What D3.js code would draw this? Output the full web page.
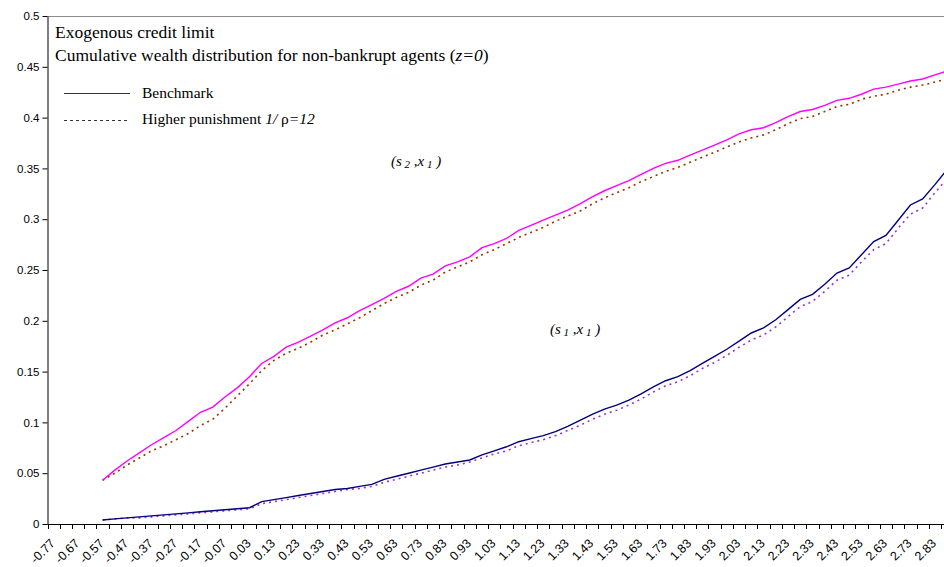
<!DOCTYPE html>
<html><head><meta charset="utf-8">
<script src="https://cdn.jsdelivr.net/npm/d3@7"></script>
<style>
html,body{margin:0;padding:0;background:#fff;}
svg{display:block;overflow:hidden;}
</style></head>
<body>
<svg id="chart" width="944" height="567"></svg>
<script>
const categories = ["-0.77","-0.72","-0.67","-0.62","-0.57","-0.52","-0.47","-0.42","-0.37","-0.32",
"-0.27","-0.22","-0.17","-0.12","-0.07","-0.02","0.03","0.08","0.13","0.18",
"0.23","0.28","0.33","0.38","0.43","0.48","0.53","0.58","0.63","0.68",
"0.73","0.78","0.83","0.88","0.93","0.98","1.03","1.08","1.13","1.18",
"1.23","1.28","1.33","1.38","1.43","1.48","1.53","1.58","1.63","1.68",
"1.73","1.78","1.83","1.88","1.93","1.98","2.03","2.08","2.13","2.18",
"2.23","2.28","2.33","2.38","2.43","2.48","2.53","2.58","2.63","2.68",
"2.73","2.78","2.83","2.88"];

// s2 benchmark (magenta, solid)
const s2Benchmark = [null,null,null,null,
0.043,0.053,0.062,0.070,0.078,0.085,0.092,0.101,0.110,0.115,
0.125,0.134,0.145,0.158,0.165,0.174,0.179,0.185,0.191,0.198,
0.203,0.210,0.216,0.222,0.229,0.234,0.242,0.246,0.254,0.258,
0.263,0.272,0.276,0.281,0.289,0.294,0.299,0.304,0.309,0.315,
0.322,0.328,0.333,0.338,0.344,0.350,0.355,0.358,0.363,0.368,
0.373,0.378,0.384,0.388,0.390,0.395,0.401,0.406,0.408,0.412,
0.417,0.419,0.423,0.428,0.430,0.433,0.436,0.438,0.442,0.446];

// s2 higher punishment (brown, dotted)
const s2Punish = [null,null,null,null,
0.043,0.050,0.058,0.065,0.072,0.077,0.083,0.089,0.097,0.103,
0.114,0.126,0.138,0.151,0.161,0.168,0.173,0.179,0.186,0.191,
0.197,0.203,0.210,0.217,0.223,0.228,0.235,0.240,0.248,0.253,
0.258,0.265,0.270,0.276,0.282,0.287,0.292,0.298,0.303,0.308,
0.315,0.321,0.326,0.331,0.337,0.342,0.347,0.351,0.356,0.361,
0.366,0.371,0.376,0.380,0.383,0.388,0.394,0.399,0.401,0.406,
0.411,0.413,0.418,0.421,0.423,0.427,0.430,0.432,0.435,0.438];

// s1 benchmark (navy, solid)
const s1Benchmark = [null,null,null,null,
0.004,0.005,0.006,0.007,0.008,0.009,0.010,0.011,0.012,0.013,
0.014,0.015,0.016,0.022,0.024,0.026,0.028,0.030,0.032,0.034,
0.035,0.037,0.039,0.044,0.047,0.050,0.053,0.056,0.059,0.061,
0.063,0.068,0.072,0.076,0.081,0.084,0.087,0.091,0.096,0.102,
0.108,0.113,0.117,0.122,0.128,0.135,0.141,0.145,0.151,0.158,
0.165,0.172,0.180,0.188,0.193,0.201,0.211,0.221,0.226,0.236,
0.247,0.252,0.265,0.278,0.284,0.299,0.314,0.320,0.334,0.349];

// s1 higher punishment (purple, dotted)
const s1Punish = [null,null,null,null,
0.004,0.005,0.006,0.006,0.007,0.008,0.009,0.010,0.011,0.012,
0.013,0.014,0.015,0.020,0.022,0.024,0.026,0.028,0.030,0.032,
0.034,0.035,0.037,0.041,0.044,0.047,0.050,0.053,0.056,0.058,
0.061,0.065,0.069,0.072,0.077,0.080,0.083,0.087,0.092,0.097,
0.103,0.108,0.112,0.117,0.123,0.130,0.136,0.140,0.146,0.153,
0.159,0.166,0.174,0.181,0.186,0.194,0.204,0.214,0.219,0.229,
0.240,0.245,0.258,0.270,0.276,0.291,0.305,0.311,0.326,0.340];

const yTickValues = [0,0.05,0.1,0.15,0.2,0.25,0.3,0.35,0.4,0.45,0.5];
const yTickLabels = ["0","0.05","0.1","0.15","0.2","0.25","0.3","0.35","0.4","0.45","0.5"];

(function(){
const svg = d3.select("#chart");
const pLeft = 47.5, pTop = 16, pBottom = 524, step = 12.24;
const x = d3.scaleBand().domain(categories).range([pLeft, pLeft + categories.length*step]).padding(0);
const y = d3.scaleLinear().domain([0,0.5]).range([pBottom, pTop]);

// top border of plot area
svg.append("line").attr("x1",pLeft).attr("x2",944).attr("y1",pTop+0.5).attr("y2",pTop+0.5)
  .attr("stroke","#8c8c8c").attr("stroke-width",1);

// Y axis
const yAxis = d3.axisLeft(y).tickValues(yTickValues)
  .tickFormat((d,i)=>yTickLabels[i]).tickSize(5).tickSizeOuter(0);
const gy = svg.append("g").attr("transform",`translate(${pLeft},0)`).call(yAxis);
gy.select(".domain").attr("stroke","#000");
gy.selectAll(".tick line").attr("stroke","#000");
gy.selectAll("text").attr("font-family","'Liberation Sans',Arial,sans-serif").attr("font-size",11.5).attr("fill","#000").attr("x",-8);

// X axis: line + ticks at category boundaries
const gx = svg.append("g");
gx.append("line").attr("x1",pLeft).attr("x2",944).attr("y1",pBottom+0.5).attr("y2",pBottom+0.5).attr("stroke","#000");
const boundaries = categories.map(c => x(c)).concat([x(categories[categories.length-1]) + x.bandwidth()]);
gx.selectAll("line.tk").data(boundaries).enter().append("line").attr("class","tk")
  .attr("x1",d=>Math.round(d)+0.5).attr("x2",d=>Math.round(d)+0.5)
  .attr("y1",pBottom).attr("y2",pBottom+5).attr("stroke","#000");
const shownLabels = categories.filter((c,i)=>i%2===0);
gx.selectAll("text.xl").data(shownLabels).enter().append("text").attr("class","xl")
  .attr("transform",d=>`translate(${x(d)+x.bandwidth()/2-1},${pBottom+17}) rotate(-45)`)
  .attr("text-anchor","end").attr("dy","0.35em")
  .attr("font-family","'Liberation Sans',Arial,sans-serif").attr("font-size",12.5).attr("fill","#000")
  .text(d=>d);

// lines
const line = d3.line().defined(d=>d.v!==null)
  .x(d=>x(d.c)+x.bandwidth()/2).y(d=>y(d.v));
function series(arr){ return categories.map((c,i)=>({c:c,v:arr[i]})); }
const plot = svg.append("g");
plot.append("path").datum(series(s2Punish)).attr("d",line).attr("fill","none")
  .attr("stroke","#993300").attr("stroke-width",1.6).attr("stroke-dasharray","2,4");
plot.append("path").datum(series(s2Benchmark)).attr("d",line).attr("fill","none")
  .attr("stroke","#ff00ff").attr("stroke-width",1.4);
plot.append("path").datum(series(s1Punish)).attr("d",line).attr("fill","none")
  .attr("stroke","#9933cc").attr("stroke-width",1.6).attr("stroke-dasharray","2,4");
plot.append("path").datum(series(s1Benchmark)).attr("d",line).attr("fill","none")
  .attr("stroke","#000080").attr("stroke-width",1.4);

// titles
const serif = "'Liberation Serif','Times New Roman',serif";
svg.append("text").attr("x",55).attr("y",38).attr("font-family",serif).attr("font-size",17.5).attr("fill","#000")
  .text("Exogenous credit limit");
const t2 = svg.append("text").attr("x",55).attr("y",61).attr("font-family",serif).attr("font-size",17.5).attr("fill","#000");
t2.append("tspan").text("Cumulative wealth distribution for non-bankrupt agents (");
t2.append("tspan").attr("font-style","italic").text("z=0");
t2.append("tspan").text(")");

// legend
svg.append("line").attr("x1",64).attr("x2",130).attr("y1",93.5).attr("y2",93.5).attr("stroke","#333").attr("stroke-width",1);
svg.append("text").attr("x",142).attr("y",98).attr("font-family",serif).attr("font-size",15.5).attr("fill","#000").text("Benchmark");
svg.append("line").attr("x1",64).attr("x2",130).attr("y1",120.5).attr("y2",120.5).attr("stroke","#333").attr("stroke-width",1).attr("stroke-dasharray","3,3");
const lt = svg.append("text").attr("x",142).attr("y",124).attr("font-family",serif).attr("font-size",15.5).attr("fill","#000");
lt.append("tspan").text("Higher punishment ");
lt.append("tspan").attr("font-style","italic").text("1/");
lt.append("tspan").text(" ρ");
lt.append("tspan").attr("font-style","italic").text("=12");

// annotations
function annot(xp, yp, sub1){
  const t = svg.append("text").attr("x",xp).attr("y",yp).attr("font-family",serif).attr("font-size",15)
    .attr("font-style","italic").attr("fill","#000");
  t.append("tspan").text("(s");
  t.append("tspan").attr("font-size",11).attr("dy",2).text(" "+sub1);
  t.append("tspan").attr("dy",-2).text(" ,x");
  t.append("tspan").attr("font-size",11).attr("dy",2).text(" 1");
  t.append("tspan").attr("dy",-2).text(" )");
}
annot(391, 166, "2");
annot(550, 334, "1");
})();
</script>
</body></html>
